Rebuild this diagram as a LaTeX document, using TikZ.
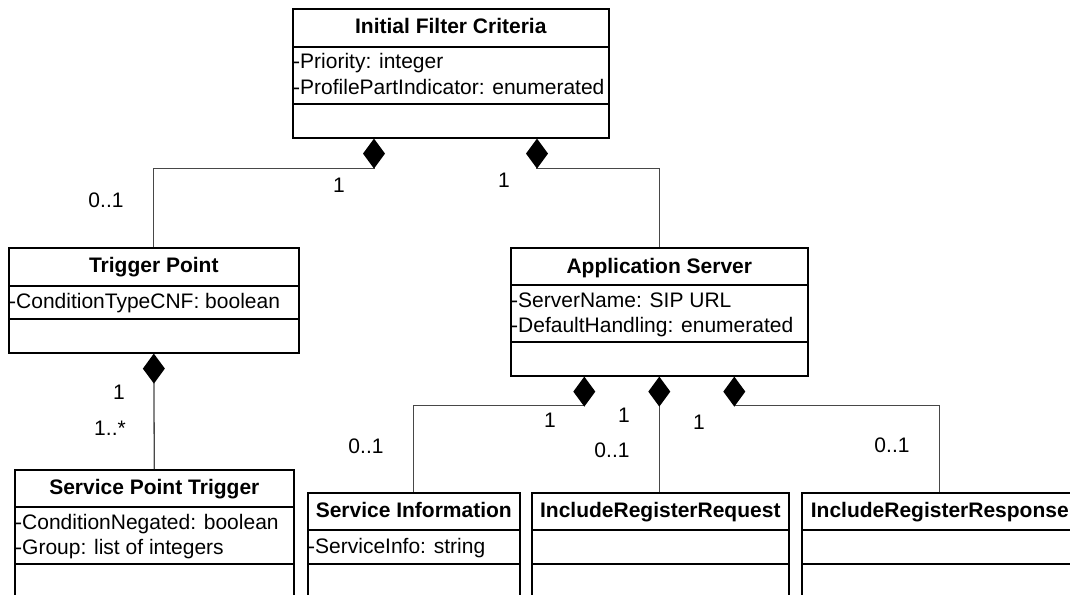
\documentclass[tikz,border=0pt]{standalone}
\usepackage{fontspec}
\setmainfont{Liberation Sans}
\usetikzlibrary{arrows.meta,calc}
\begin{document}
\begin{tikzpicture}[x=1pt,y=-1pt,
  cls/.style={draw=black,line width=1.6pt,rectangle,inner sep=0pt,anchor=north west},
  divider/.style={draw=black,line width=1.6pt},
  ctitle/.style={inner sep=0pt,anchor=base,font=\fontsize{21}{25}\selectfont\bfseries},
  attr/.style={inner sep=0pt,anchor=base west,font=\fontsize{21}{25}\selectfont},
  mult/.style={inner sep=0pt,anchor=center,font=\fontsize{21}{25}\selectfont},
  conn/.style={draw=black!72,line width=1.3pt},
  comp/.style={{Diamond[length=30pt,width=22pt,color=black]}-}
]
\useasboundingbox (0,0) rectangle (1070,594);
\clip (0,0) rectangle (1070,594);

% ---- classes ----
\node[cls,minimum width=316pt,minimum height=129pt] (ifc) at (292,8) {};
\draw[divider] ($(ifc.north west)+(0,39)$) -- ($(ifc.north east)+(0,39)$);
\draw[divider] ($(ifc.north west)+(0,96)$) -- ($(ifc.north east)+(0,96)$);
\node[ctitle] (ifct) at ($(ifc.north)+(0,26)$) {Initial Filter Criteria};
\node[attr] (ifca1) at ($(ifc.north west)+(1,61)$) {-Priority: integer};
\node[attr] (ifca2) at ($(ifc.north west)+(1,86)$) {-ProfilePartIndicator: enumerated};

\node[cls,minimum width=290pt,minimum height=105pt] (tp) at (8,247) {};
\draw[divider] ($(tp.north west)+(0,39)$) -- ($(tp.north east)+(0,39)$);
\draw[divider] ($(tp.north west)+(0,72)$) -- ($(tp.north east)+(0,72)$);
\node[ctitle] (tpt) at ($(tp.north)+(0,25)$) {Trigger Point};
\node[attr] (tpa1) at ($(tp.north west)+(1,61)$) {-ConditionTypeCNF: boolean};

\node[cls,minimum width=297pt,minimum height=128pt] (as) at (510,247) {};
\draw[divider] ($(as.north west)+(0,38)$) -- ($(as.north east)+(0,38)$);
\draw[divider] ($(as.north west)+(0,95)$) -- ($(as.north east)+(0,95)$);
\node[ctitle] (ast) at ($(as.north)+(0,26)$) {Application Server};
\node[attr] (asa1) at ($(as.north west)+(1,60)$) {-ServerName: SIP URL};
\node[attr] (asa2) at ($(as.north west)+(1,85)$) {-DefaultHandling: enumerated};

\node[cls,minimum width=279pt,minimum height=160pt] (spt) at (14,469) {};
\draw[divider] ($(spt.north west)+(0,38)$) -- ($(spt.north east)+(0,38)$);
\draw[divider] ($(spt.north west)+(0,95)$) -- ($(spt.north east)+(0,95)$);
\node[ctitle] (sptt) at ($(spt.north)+(0,25)$) {Service Point Trigger};
\node[attr] (spta1) at ($(spt.north west)+(1,60)$) {-ConditionNegated: boolean};
\node[attr] (spta2) at ($(spt.north west)+(1,85)$) {-Group: list of integers};

\node[cls,minimum width=212pt,minimum height=140pt] (si) at (307,492) {};
\draw[divider] ($(si.north west)+(0,38)$) -- ($(si.north east)+(0,38)$);
\draw[divider] ($(si.north west)+(0,72)$) -- ($(si.north east)+(0,72)$);
\node[ctitle] (sit) at ($(si.north)+(0,25)$) {Service Information};
\node[attr] (sia1) at ($(si.north west)+(1,61)$) {-ServiceInfo: string};

\node[cls,minimum width=257pt,minimum height=140pt] (irr) at (531,492) {};
\draw[divider] ($(irr.north west)+(0,38)$) -- ($(irr.north east)+(0,38)$);
\draw[divider] ($(irr.north west)+(0,72)$) -- ($(irr.north east)+(0,72)$);
\node[ctitle] (irrt) at ($(irr.north)+(0,25)$) {IncludeRegisterRequest};

\node[cls,minimum width=276pt,minimum height=140pt] (irs) at (801,492) {};
\draw[divider] ($(irs.north west)+(0,38)$) -- ($(irs.north east)+(0,38)$);
\draw[divider] ($(irs.north west)+(0,72)$) -- ($(irs.north east)+(0,72)$);
\node[ctitle] (irst) at ($(irs.north)+(0,25)$) {IncludeRegisterResponse};

% ---- connectors ----
\draw[conn,comp] ($(ifc.south west)+(82,0)$) -- ++(0,30) -| (tp.north);
\draw[conn,comp] ($(ifc.south west)+(245,0)$) -- ++(0,30) -| (as.north);
\draw[conn,comp] (tp.south) -- (spt.north);
\draw[conn,comp] ($(as.south)+(-75,0)$) -- ++(0,29) -| (si.north);
\draw[conn,comp] (as.south) -- (as.south |- irr.north);
\draw[conn,comp] ($(as.south)+(75,0)$) -- ++(0,29) -| (irs.north);

% ---- multiplicities ----
\node[mult] (m1) at (106,200) {0..1};
\node[mult] (m2) at (339,185) {1};
\node[mult] (m3) at (504,180) {1};
\node[mult] (m4) at (119,392) {1};
\node[mult] (m5) at (110,428) {1..*};
\node[mult] (m6) at (366,446) {0..1};
\node[mult] (m7) at (550,420) {1};
\node[mult] (m8) at (624,415) {1};
\node[mult] (m9) at (612,450) {0..1};
\node[mult] (m10) at (699,422) {1};
\node[mult] (m11) at (892,445) {0..1};
\end{tikzpicture}
\end{document}
